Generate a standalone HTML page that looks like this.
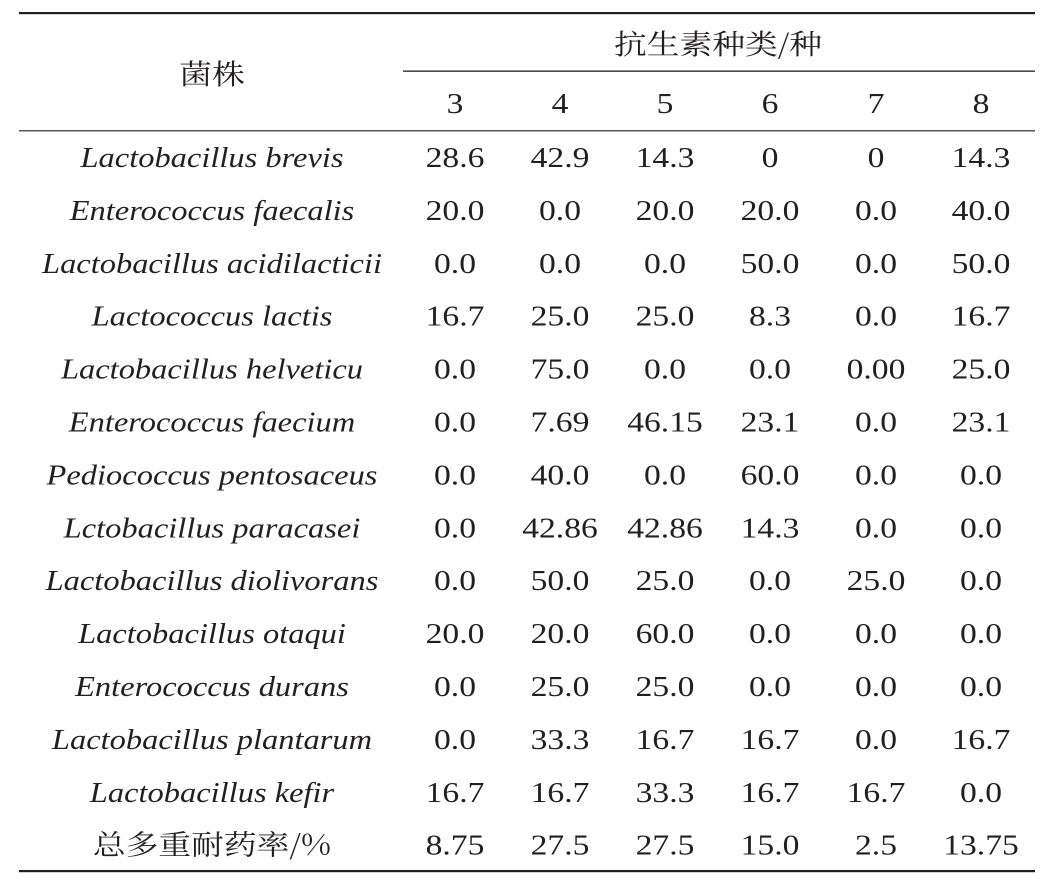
<!DOCTYPE html>
<html><head><meta charset="utf-8"><style>
html,body{margin:0;padding:0;background:#fff;}
svg{display:block;}
text{font-family:"Liberation Serif","Noto Serif CJK SC",serif;font-size:28px;fill:#231f20;}
.i{font-style:italic;}
.c{font-family:"Noto Serif CJK SC",serif;}
</style></head><body>
<svg width="1057" height="887" viewBox="0 0 1057 887" xmlns="http://www.w3.org/2000/svg">
<rect x="19" y="12" width="1016" height="2.2" fill="#231f20"/>
<rect x="403" y="70.5" width="632" height="1.3" fill="#231f20"/>
<rect x="19" y="130" width="1016" height="1.5" fill="#555"/>
<rect x="19" y="870" width="1016" height="2.2" fill="#231f20"/>
<text class="c" text-anchor="middle" transform="translate(212,84) scale(1.17,1)">菌株</text>
<text class="c" text-anchor="middle" transform="translate(718,54) scale(1.17,1)">抗生素种类/种</text>
<g id="rows" text-anchor="middle"></g>
</svg>
<script>
var d=[["Lactobacillus brevis","28.6","42.9","14.3","0","0","14.3"],
["Enterococcus faecalis","20.0","0.0","20.0","20.0","0.0","40.0"],
["Lactobacillus acidilacticii","0.0","0.0","0.0","50.0","0.0","50.0"],
["Lactococcus lactis","16.7","25.0","25.0","8.3","0.0","16.7"],
["Lactobacillus helveticu","0.0","75.0","0.0","0.0","0.00","25.0"],
["Enterococcus faecium","0.0","7.69","46.15","23.1","0.0","23.1"],
["Pediococcus pentosaceus","0.0","40.0","0.0","60.0","0.0","0.0"],
["Lctobacillus paracasei","0.0","42.86","42.86","14.3","0.0","0.0"],
["Lactobacillus diolivorans","0.0","50.0","25.0","0.0","25.0","0.0"],
["Lactobacillus otaqui","20.0","20.0","60.0","0.0","0.0","0.0"],
["Enterococcus durans","0.0","25.0","25.0","0.0","0.0","0.0"],
["Lactobacillus plantarum","0.0","33.3","16.7","16.7","0.0","16.7"],
["Lactobacillus kefir","16.7","16.7","33.3","16.7","16.7","0.0"],
["总多重耐药率/%","8.75","27.5","27.5","15.0","2.5","13.75"]];
var xs=[212,455,560,665,770,876,981],g=document.getElementById("rows"),ns="http://www.w3.org/2000/svg";
function add(x,y,s,cls,v){var t=document.createElementNS(ns,"text");t.setAttribute("transform","translate("+x+","+y+") scale("+s+",1)");if(cls)t.setAttribute("class",cls);t.textContent=v;g.appendChild(t);}
["3","4","5","6","7","8"].forEach(function(v,j){add(xs[j+1],113,1.2,"",v);});
d.forEach(function(r,i){var y=(167+i*52.9).toFixed(1);r.forEach(function(v,j){
if(j==0){add(xs[0],y,i<13?1.16:1.17,i<13?"i":"c",v);}else add(xs[j],y,1.2,"",v);});});
</script>
</body></html>
